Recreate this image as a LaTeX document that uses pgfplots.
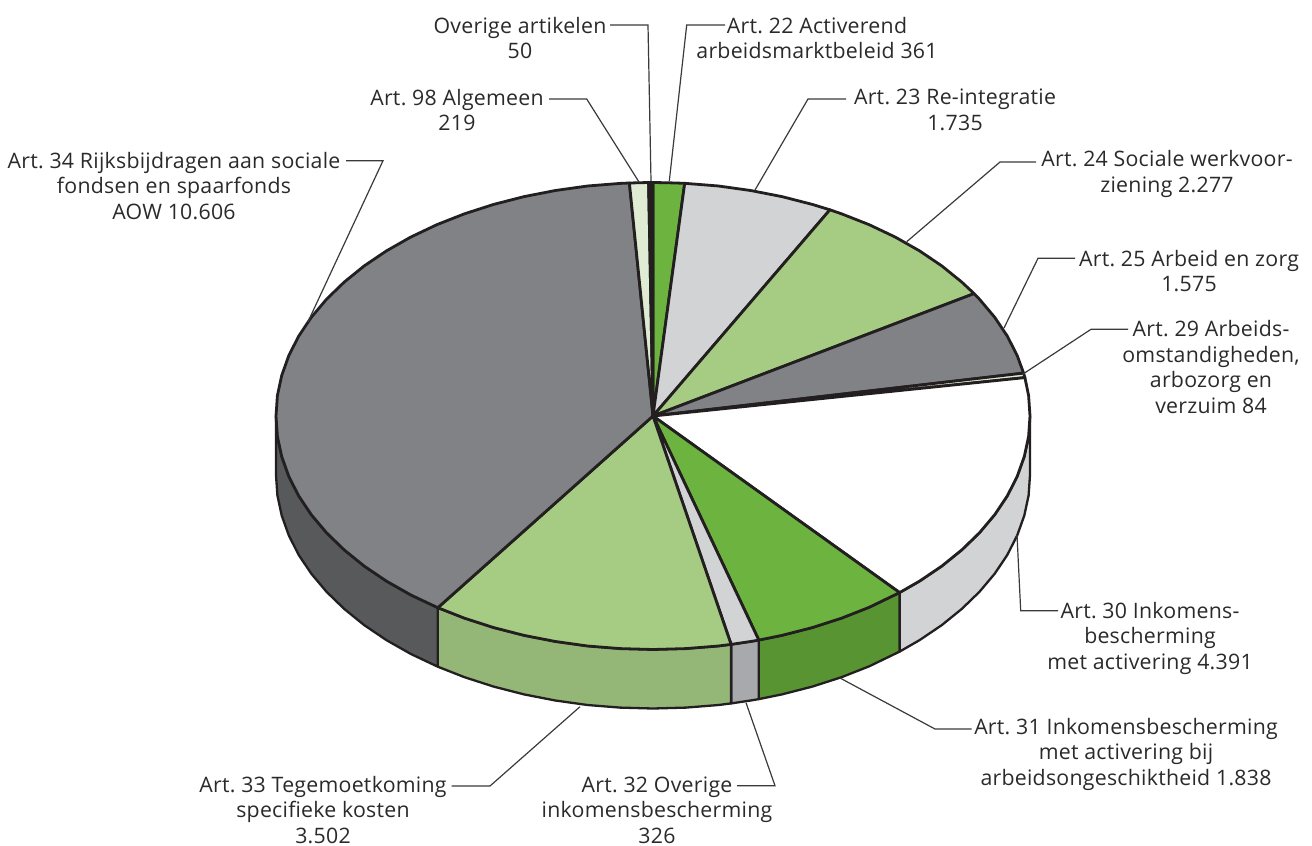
\documentclass[border=0pt]{standalone}
\usepackage{pgfplots}
\pgfplotsset{compat=1.18}
\usepackage{fontspec}
\setmainfont[LetterSpace=1.2]{Open Sans}
\frenchspacing
\definecolor{ink}{HTML}{231F20}
\definecolor{txt}{HTML}{2B2A2A}
\definecolor{ldr}{HTML}{3A3A3A}
\definecolor{grn}{HTML}{6CB33F}
\definecolor{lgray}{HTML}{D1D3D4}
\definecolor{lgrn}{HTML}{A6CC84}
\definecolor{mgray}{HTML}{808285}
\definecolor{pale}{HTML}{DFECD3}
\definecolor{sgrn}{HTML}{589532}
\definecolor{sgray}{HTML}{A7A9AC}
\definecolor{slgrn}{HTML}{94B777}
\definecolor{sdark}{HTML}{58595B}
\newcommand{\lab}[3]{\node[text=txt,align=center,inner sep=0pt,anchor=center,font=\fontsize{21.3}{25.5}\selectfont] at (axis cs:#1,#2) {#3};}
\begin{document}
\begin{tikzpicture}
\begin{axis}[
  width=1312pt,height=846pt,scale only axis,
  xmin=0,xmax=1312,ymin=0,ymax=846,y dir=reverse,
  axis lines=none,ticks=none,clip=false,
  wall/.style={draw=ink,line width=2.3pt,line join=round},
  slice/.style={draw=ink,line width=2.8pt,line join=round},
  leader/.style={draw=ldr,line width=1.2pt,line join=miter}
]
\path (axis cs:0,0) rectangle (axis cs:1312,846);
% --- side walls ---
\addplot[wall,fill=lgray] coordinates {(1030,416)(1028.6,436.4)(1024.3,456.5)(1017.2,476.4)(1007.3,495.9)(994.7,514.7)(979.5,532.75)(961.8,549.9)(941.8,566.1)(919.6,581.1)(899.6,592.6)(899.6,651.6)(919.6,640.1)(941.8,625.1)(961.8,608.9)(979.5,591.75)(994.7,573.7)(1007.3,554.9)(1017.2,535.4)(1024.3,515.5)(1028.6,495.4)(1030,475)} --cycle;
\addplot[wall,fill=sgrn] coordinates {(899.6,592.6)(869.2,607.3)(841.5,618.2)(812.3,627.6)(781.9,635.4)(758.8,640.1)(758.8,699.1)(781.9,694.4)(812.3,686.6)(841.5,677.2)(869.2,666.3)(899.6,651.6)} --cycle;
\addplot[wall,fill=sgray] coordinates {(758.8,640.1)(750.6,641.5)(731.1,644.4)(731.1,703.4)(750.6,700.5)(758.8,699.1)} --cycle;
\addplot[wall,fill=slgrn] coordinates {(731.1,644.4)(718.5,646)(685.9,648.6)(653,649.5)(620.1,648.6)(587.5,646)(555.4,641.5)(524.1,635.4)(493.7,627.6)(464.5,618.2)(437.8,607.7)(437.8,666.7)(464.5,677.2)(493.7,686.6)(524.1,694.4)(555.4,700.5)(587.5,705)(620.1,707.6)(653,708.5)(685.9,707.6)(718.5,705)(731.1,703.4)} --cycle;
\addplot[wall,fill=sdark] coordinates {(437.8,607.7)(410.7,594.9)(386.4,581.1)(364.2,566.1)(344.2,549.9)(326.5,532.75)(311.3,514.7)(298.7,495.9)(288.8,476.4)(281.7,456.5)(277.4,436.4)(276,416)(276,475)(277.4,495.4)(281.7,515.5)(288.8,535.4)(298.7,554.9)(311.3,573.7)(326.5,591.75)(344.2,608.9)(364.2,625.1)(386.4,640.1)(410.7,653.9)(437.8,666.7)} --cycle;
% --- top slices: Art. 22, 361 ---
\addplot[slice,fill=grn] coordinates {(653,416)(653,182.5)(669.5,182.8)(684.7,183.3)} --cycle;
% Art. 23, 1735
\addplot[slice,fill=lgray] coordinates {(653,416)(684.7,183.3)(718.5,186)(750.6,190.5)(781.9,196.6)(812.3,204.4)(829.9,209.8)} --cycle;
% Art. 24, 2277
\addplot[slice,fill=lgrn] coordinates {(653,416)(829.9,209.8)(841.5,213.8)(869.2,224.7)(895.3,237.1)(919.6,250.9)(941.8,265.9)(961.8,282.1)(974.1,293.6)} --cycle;
% Art. 25, 1575
\addplot[slice,fill=mgray] coordinates {(653,416)(974.1,293.6)(979.5,299.25)(994.7,317.3)(1007.3,336.1)(1017.2,355.6)(1023.6,373.1)} --cycle;
% Art. 29, 84
\addplot[slice,fill=pale] coordinates {(653,416)(1023.6,373.1)(1024.9,377.6)} --cycle;
% Art. 30, 4391
\addplot[slice,fill=white] coordinates {(653,416)(1024.9,377.6)(1028.6,395.6)(1030,416)(1028.6,436.4)(1024.3,456.5)(1017.2,476.4)(1007.3,495.9)(994.7,514.7)(979.5,532.75)(961.8,549.9)(941.8,566.1)(919.6,581.1)(899.6,592.6)} --cycle;
% Art. 31, 1838
\addplot[slice,fill=grn] coordinates {(653,416)(899.6,592.6)(869.2,607.3)(841.5,618.2)(812.3,627.6)(781.9,635.4)(758.8,640.1)} --cycle;
% Art. 32, 326
\addplot[slice,fill=lgray] coordinates {(653,416)(758.8,640.1)(750.6,641.5)(731.1,644.4)} --cycle;
% Art. 33, 3502
\addplot[slice,fill=lgrn] coordinates {(653,416)(731.1,644.4)(718.5,646)(685.9,648.6)(653,649.5)(620.1,648.6)(587.5,646)(555.4,641.5)(524.1,635.4)(493.7,627.6)(464.5,618.2)(437.8,607.7)} --cycle;
% Art. 34, 10606
\addplot[slice,fill=mgray] coordinates {(653,416)(437.8,607.7)(410.7,594.9)(386.4,581.1)(364.2,566.1)(344.2,549.9)(326.5,532.75)(311.3,514.7)(298.7,495.9)(288.8,476.4)(281.7,456.5)(277.4,436.4)(276,416)(277.4,395.6)(281.7,375.5)(288.8,355.6)(298.7,336.1)(311.3,317.3)(326.5,299.25)(344.2,282.1)(364.2,265.9)(386.4,250.9)(410.7,237.1)(436.8,224.7)(464.5,213.8)(493.7,204.4)(524.1,196.6)(555.4,190.5)(587.5,186)(620.1,183.4)(629.4,183)} --cycle;
% Art. 98, 219
\addplot[slice,fill=pale] coordinates {(653,416)(629.4,183)(648.6,182.5)} --cycle;
% Overige, 50
\addplot[slice,fill=ink] coordinates {(653,416)(648.6,182.5)(653,182.5)} --cycle;
% --- leader lines ---
\addplot[leader] coordinates {(610,25)(648,25)(651,181)};
\addplot[leader] coordinates {(725,25)(686.7,25)(669.3,181)};
\addplot[leader] coordinates {(846,99)(808,99)(755,190)};
\addplot[leader] coordinates {(549,99)(586.7,99)(639,182)};
\addplot[leader] coordinates {(1036,162)(1000,162)(906.7,241.7)};
\addplot[leader] coordinates {(1075,258.3)(1038,258.3)(1004,328)};
\addplot[leader] coordinates {(1128,329.3)(1091,329.3)(1023,374)};
\addplot[leader] coordinates {(1058,610.7)(1020.7,610.7)(1017,535)};
\addplot[leader] coordinates {(971.7,729)(935,729)(840,678)};
\addplot[leader] coordinates {(737,785.7)(775,785.7)(746,702.7)};
\addplot[leader] coordinates {(451.7,786)(490,786)(580,706.7)};
\addplot[leader] coordinates {(346,160.7)(383,160.7)(308,321.7)};
% --- labels ---
\lab{520}{38}{Overige artikelen\\50}
\lab{817}{38}{Art. 22 Activerend\\arbeidsmarktbeleid 361}
\lab{955}{110}{Art. 23 Re-integratie\\1.735}
\lab{1167}{174}{Art. 24 Sociale werkvoor-\\ziening 2.277}
\lab{1189}{271}{Art. 25 Arbeid en zorg\\1.575}
\lab{1211}{367}{Art. 29 Arbeids-\\omstandigheden,\\arbozorg en\\verzuim 84}
\lab{1150}{638}{Art. 30 Inkomens-\\bescherming\\met activering 4.391}
\lab{1126}{754}{Art. 31 Inkomensbescherming\\met activering bij\\arbeidsongeschiktheid 1.838}
\lab{657}{810}{Art. 32 Overige\\inkomensbescherming\\326}
\lab{323}{810}{Art. 33 Tegemoetkoming\\specifieke kosten\\3.502}
\lab{174}{186}{Art. 34 Rijksbijdragen aan sociale\\fondsen en spaarfonds\\AOW 10.606}
\lab{457}{110}{Art. 98 Algemeen\\219}
\end{axis}
\end{tikzpicture}
\end{document}
